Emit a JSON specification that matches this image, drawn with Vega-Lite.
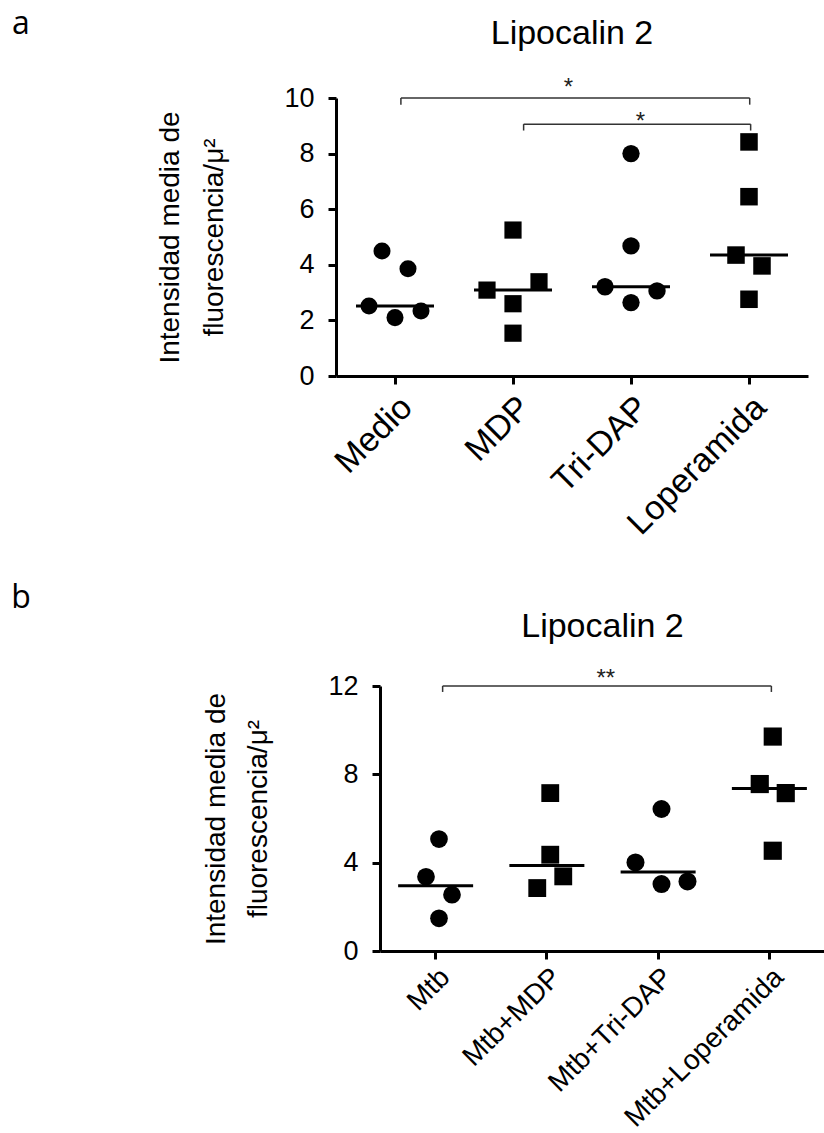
{
  "$schema": "https://vega.github.io/schema/vega-lite/v6.json",
  "padding": {"left": 0, "top": 8, "right": 0, "bottom": 0},
  "spacing": 40,
  "config": {
    "view": {"stroke": null},
    "font": "Liberation Sans",
    "axis": {"grid": false, "domainColor": "black", "domainWidth": 3, "tickColor": "black", "tickWidth": 3, "tickSize": 8, "labelColor": "black", "titleColor": "black", "labelFont": "Liberation Sans", "titleFont": "Liberation Sans", "titleFontWeight": "normal", "labelLimit": 0},
    "title": {"font": "Liberation Sans", "fontSize": 34, "fontWeight": "normal", "color": "black"}
  },
  "vconcat": [
    {
      "spacing": 114,
      "hconcat": [
        {
          "width": 42, "height": 30,
          "title": {"text": "a", "font": "Open Sans", "fontSize": 32, "anchor": "middle", "baseline": "alphabetic", "offset": 32},
          "data": {"values": [{}]},
          "mark": {"type": "text"},
          "encoding": {}
        },
        {
          "width": 472, "height": 278,
          "title": {"text": "Lipocalin 2", "offset": 25},
          "layer": [
            {
              "data": {"values": [
                {"group": "Medio", "value": 4.5, "j": -1},
                {"group": "Medio", "value": 3.86, "j": 1},
                {"group": "Medio", "value": 2.52, "j": -2},
                {"group": "Medio", "value": 2.1, "j": 0},
                {"group": "Medio", "value": 2.34, "j": 2},
                {"group": "MDP", "value": 5.25, "j": 0},
                {"group": "MDP", "value": 3.09, "j": -2},
                {"group": "MDP", "value": 3.39, "j": 2},
                {"group": "MDP", "value": 2.6, "j": 0},
                {"group": "MDP", "value": 1.54, "j": 0},
                {"group": "Tri-DAP", "value": 8.0, "j": 0},
                {"group": "Tri-DAP", "value": 4.68, "j": 0},
                {"group": "Tri-DAP", "value": 3.21, "j": -2},
                {"group": "Tri-DAP", "value": 3.06, "j": 2},
                {"group": "Tri-DAP", "value": 2.64, "j": 0},
                {"group": "Loperamida", "value": 8.42, "j": 0},
                {"group": "Loperamida", "value": 6.45, "j": 0},
                {"group": "Loperamida", "value": 4.35, "j": -1},
                {"group": "Loperamida", "value": 3.96, "j": 1},
                {"group": "Loperamida", "value": 2.76, "j": 0}
              ]},
              "layer": [
                {
                  "mark": {"type": "point", "filled": true, "opacity": 1, "color": "black", "strokeWidth": 0},
                  "encoding": {
                    "x": {"field": "group", "type": "nominal", "sort": ["Medio", "MDP", "Tri-DAP", "Loperamida"], "scale": {"paddingInner": 0, "paddingOuter": 0},
                      "axis": {"title": null, "labelAngle": -45, "labelFontSize": 34, "labelPadding": 6}},
                    "xOffset": {"field": "j", "type": "quantitative", "scale": {"domain": [-2, 2], "range": [33, 85]}},
                    "y": {"field": "value", "type": "quantitative", "scale": {"domain": [0, 10]},
                      "axis": {"title": ["Intensidad media de", "fluorescencia/μ²"], "values": [0, 2, 4, 6, 8, 10], "labelFontSize": 27, "labelPadding": 14, "titleFontSize": 28, "titlePadding": 55, "titleLineHeight": 44}},
                    "shape": {"field": "group", "type": "nominal", "scale": {"domain": ["Medio", "MDP", "Tri-DAP", "Loperamida"], "range": ["circle", "square", "circle", "square"]}, "legend": null},
                    "size": {"field": "group", "type": "nominal", "scale": {"domain": ["Medio", "MDP", "Tri-DAP", "Loperamida"], "range": [290, 330, 290, 330]}, "legend": null}
                  }
                },
                {
                  "mark": {"type": "tick", "thickness": 3, "size": 78, "color": "black"},
                  "encoding": {
                    "x": {"field": "group", "type": "nominal", "sort": ["Medio", "MDP", "Tri-DAP", "Loperamida"]},
                    "y": {"aggregate": "median", "field": "value", "type": "quantitative", "scale": {"domain": [0, 10]}}
                  }
                }
              ]
            },
            {
              "layer": [
                {
                  "data": {"values": [
                    {"xs": 0.55, "xe": 3.506, "ys": 10, "ye": 10},
                    {"xs": 0.55, "xe": 0.55, "ys": 10, "ye": 9.76},
                    {"xs": 3.506, "xe": 3.506, "ys": 10, "ye": 9.76},
                    {"xs": 1.59, "xe": 3.514, "ys": 9.06, "ye": 9.06},
                    {"xs": 1.59, "xe": 1.59, "ys": 9.06, "ye": 8.83},
                    {"xs": 3.514, "xe": 3.514, "ys": 9.06, "ye": 8.83}
                  ]},
                  "mark": {"type": "rule", "color": "#333333", "strokeWidth": 1.5},
                  "encoding": {
                    "x": {"field": "xs", "type": "quantitative", "scale": {"domain": [0, 4]}, "axis": null},
                    "x2": {"field": "xe"},
                    "y": {"field": "ys", "type": "quantitative", "scale": {"domain": [0, 10]}},
                    "y2": {"field": "ye"}
                  }
                },
                {
                  "data": {"values": [
                    {"xm": 1.97, "ym": 10.35, "sig": "*"},
                    {"xm": 2.58, "ym": 9.12, "sig": "*"}
                  ]},
                  "mark": {"type": "text", "fontSize": 24, "color": "#222222", "baseline": "middle", "align": "center"},
                  "encoding": {
                    "x": {"field": "xm", "type": "quantitative", "scale": {"domain": [0, 4]}, "axis": null},
                    "y": {"field": "ym", "type": "quantitative", "scale": {"domain": [0, 10]}},
                    "text": {"field": "sig"}
                  }
                }
              ]
            }
          ],
          "resolve": {"scale": {"x": "independent"}, "axis": {"x": "independent"}}
        }
      ]
    },
    {
      "spacing": 160,
      "hconcat": [
        {
          "width": 42, "height": 30,
          "title": {"text": "b", "font": "Open Sans", "fontSize": 32, "anchor": "middle", "baseline": "alphabetic", "offset": 46},
          "data": {"values": [{}]},
          "mark": {"type": "text"},
          "encoding": {}
        },
        {
          "width": 445, "height": 265,
          "title": {"text": "Lipocalin 2", "offset": 23},
          "layer": [
            {
              "data": {"values": [
                {"group": "Mtb", "value": 5.07, "j": 0},
                {"group": "Mtb", "value": 3.36, "j": -1},
                {"group": "Mtb", "value": 2.55, "j": 1},
                {"group": "Mtb", "value": 1.48, "j": 0},
                {"group": "Mtb+MDP", "value": 7.15, "j": 0},
                {"group": "Mtb+MDP", "value": 4.36, "j": 0},
                {"group": "Mtb+MDP", "value": 3.38, "j": 1},
                {"group": "Mtb+MDP", "value": 2.85, "j": -1},
                {"group": "Mtb+Tri-DAP", "value": 6.43, "j": 0},
                {"group": "Mtb+Tri-DAP", "value": 4.01, "j": -2},
                {"group": "Mtb+Tri-DAP", "value": 3.03, "j": 0},
                {"group": "Mtb+Tri-DAP", "value": 3.15, "j": 2},
                {"group": "Mtb+Loperamida", "value": 9.71, "j": 0},
                {"group": "Mtb+Loperamida", "value": 7.56, "j": -1},
                {"group": "Mtb+Loperamida", "value": 7.15, "j": 1},
                {"group": "Mtb+Loperamida", "value": 4.54, "j": 0}
              ]},
              "layer": [
                {
                  "mark": {"type": "point", "filled": true, "opacity": 1, "color": "black", "strokeWidth": 0},
                  "encoding": {
                    "x": {"field": "group", "type": "nominal", "sort": ["Mtb", "Mtb+MDP", "Mtb+Tri-DAP", "Mtb+Loperamida"], "scale": {"paddingInner": 0, "paddingOuter": 0},
                      "axis": {"title": null, "labelAngle": -45, "labelFontSize": 28, "labelPadding": 4}},
                    "xOffset": {"field": "j", "type": "quantitative", "scale": {"domain": [-2, 2], "range": [30.6, 80.6]}},
                    "y": {"field": "value", "type": "quantitative", "scale": {"domain": [0, 12]},
                      "axis": {"title": ["Intensidad media de", "fluorescencia/μ²"], "values": [0, 4, 8, 12], "labelFontSize": 27, "labelPadding": 14, "titleFontSize": 28, "titlePadding": 55, "titleLineHeight": 42}},
                    "shape": {"field": "group", "type": "nominal", "scale": {"domain": ["Mtb", "Mtb+MDP", "Mtb+Tri-DAP", "Mtb+Loperamida"], "range": ["circle", "square", "circle", "square"]}, "legend": null},
                    "size": {"field": "group", "type": "nominal", "scale": {"domain": ["Mtb", "Mtb+MDP", "Mtb+Tri-DAP", "Mtb+Loperamida"], "range": [220, 340, 220, 340]}, "legend": null}
                  }
                },
                {
                  "mark": {"type": "tick", "thickness": 3, "size": 75, "color": "black"},
                  "encoding": {
                    "x": {"field": "group", "type": "nominal", "sort": ["Mtb", "Mtb+MDP", "Mtb+Tri-DAP", "Mtb+Loperamida"]},
                    "y": {"aggregate": "median", "field": "value", "type": "quantitative", "scale": {"domain": [0, 12]}}
                  }
                }
              ]
            },
            {
              "layer": [
                {
                  "data": {"values": [
                    {"xs": 0.563, "xe": 3.518, "ys": 12, "ye": 12},
                    {"xs": 0.563, "xe": 0.563, "ys": 12, "ye": 11.73},
                    {"xs": 3.518, "xe": 3.518, "ys": 12, "ye": 11.73}
                  ]},
                  "mark": {"type": "rule", "color": "#333333", "strokeWidth": 1.5},
                  "encoding": {
                    "x": {"field": "xs", "type": "quantitative", "scale": {"domain": [0, 4]}, "axis": null},
                    "x2": {"field": "xe"},
                    "y": {"field": "ys", "type": "quantitative", "scale": {"domain": [0, 12]}},
                    "y2": {"field": "ye"}
                  }
                },
                {
                  "data": {"values": [
                    {"xm": 2.03, "ym": 12.3, "sig": "**"}
                  ]},
                  "mark": {"type": "text", "fontSize": 24, "color": "#222222", "baseline": "middle", "align": "center"},
                  "encoding": {
                    "x": {"field": "xm", "type": "quantitative", "scale": {"domain": [0, 4]}, "axis": null},
                    "y": {"field": "ym", "type": "quantitative", "scale": {"domain": [0, 12]}},
                    "text": {"field": "sig"}
                  }
                }
              ]
            }
          ],
          "resolve": {"scale": {"x": "independent"}, "axis": {"x": "independent"}}
        }
      ]
    }
  ]
}
